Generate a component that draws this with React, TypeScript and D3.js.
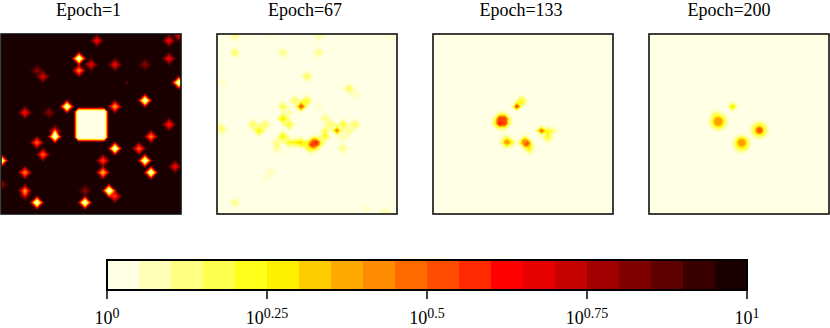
import React from 'react';
import * as d3 from 'd3';

// hot_r sampled into the 20 levels of the colorbar
const levelColors = [
  '#ffffe6', '#ffffb8', '#ffff80', '#ffff4d', '#ffff1a', '#fff000', '#ffcc00', '#ffaa00', '#ff8c00', '#ff6a00',
  '#ff4c00', '#ff2a00', '#ff0000', '#e60000', '#c40000', '#a00000', '#800000', '#5c0000', '#3a0000', '#1a0000',
];
const tickExponents = [0, 0.25, 0.5, 0.75, 1];
const tickLabels = ['0', '0.25', '0.5', '0.75', '1'];
const epochs = [1, 67, 133, 200];

// blobs: [col, row, log10 value, half width?, falloff?]
type Blob = [number, number, number, number?, number?];

const epoch1: Blob[] = [
  [30.1, 30.2, 0, 4.3, 1.8],
  [26, 8.2, 0], [22, 24.2, 0], [48, 22.2, 0], [38, 38.2, 0], [48, 42.2, 0], [50, 46.2, 0],
  [18, 34.2, 0], [36, 52.2, 0], [12, 56.2, 0], [28, 56.2, 0], [59.3, 16.2, 0], [0, 42.2, 0],
  [26, 12.2, 0.45], [38, 24.2, 0.4], [34, 46.2, 0.35], [8, 46.2, 0.45], [50, 34.2, 0.45], [46, 38.2, 0.5],
  [14, 40.2, 0.5], [12, 36.2, 0.5], [8, 52.2, 0.5], [38, 54.2, 0.6], [37, 53.2, 0.85], [18, 32.4, 0.65],
  [32, 2.2, 0.65], [56, 2.2, 0.65], [56, 8.2, 0.65], [38, 10.2, 0.65], [30, 10.2, 0.68], [14, 14.2, 0.7],
  [8, 26.2, 0.62], [56, 30.2, 0.6], [58, 44.2, 0.65], [34, 42.2, 0.55],
  [48, 10.2, 0.82], [16, 26.2, 0.82], [28, 52.2, 0.82], [12, 12.2, 0.82], [42, 16.2, 0.86, 0, 1],
  [0, 50.2, 0.78], [59.3, 0.4, 0.7], [8, 53.6, 0.78],
];

const epoch67: Blob[] = [
  [6, 6.2, 0.15], [22, 6.2, 0.12], [34, 6.2, 0.12], [6, 0.7, 0.12], [34, 0.7, 0.1], [30, 14.2, 0.16],
  [44, 18.2, 0.16], [46, 20.2, 0.08], [18, 46.2, 0.08], [6, 56.2, 0.12], [42, 38.2, 0.12], [56, 59.5, 0.1],
  [50, 58.2, 0.06], [2, 16.2, 0.06], [16, 48.2, 0.05], [34, 24.2, 0.06], [18, 0.7, 0.05], [58, 0.7, 0.05],
  [28, 24.2, 0.42, 0, 2.4], [28, 24.2, 0.1], [30, 22.2, 0.18], [29, 23.2, 0.12], [26, 22.2, 0.16], [22, 24.2, 0.16], [24, 26.2, 0.1],
  [22, 28.2, 0.28], [24, 30.2, 0.2], [14, 32.2, 0.24], [12, 30.2, 0.16], [16, 30.2, 0.16], [1, 31.2, 0.12],
  [2, 32.2, 0.08], [22, 34.2, 0.24], [20, 36.2, 0.12], [20, 38.2, 0.1], [24, 36.2, 0.18], [26, 36.2, 0.18],
  [28, 36.2, 0.26], [30, 37.2, 0.16], [31.3, 38.3, 0.14], [32.4, 36.4, 0.4, 0.5, 2.2], [32.4, 36.6, 0.12, 1, 3], [34, 36.2, 0.16],
  [36, 34.2, 0.2], [36, 32.2, 0.14], [36, 28.2, 0.12], [38, 30.2, 0.16], [40, 32.2, 0.36, 0, 2.2], [40, 32.2, 0.1], [42, 30.2, 0.2],
  [42, 34.2, 0.1], [44, 32.2, 0.12], [46, 30.2, 0.16],
];

const epoch133: Blob[] = [
  [27.9, 24.2, 0.42, 0, 2], [27.9, 24.2, 0.1, 0, 2.6], [29.7, 22.2, 0.18], [28.8, 23.2, 0.14],
  [23.1, 29, 0.34, 0.9, 1.8], [23.1, 29, 0.22, 1, 3.2], [21.2, 30, 0.12],
  [24.6, 36.1, 0.24, 0.2, 2], [24.6, 36.1, 0.14, 0.4, 3], [23.8, 34.8, 0.08], [26.2, 36.1, 0.12],
  [30.7, 36.1, 0.3, 0.4, 2], [30.7, 36.1, 0.14, 0.5, 3], [32, 37.2, 0.2, 0.2, 2.4], [32.2, 38.7, 0.14],
  [36.1, 32.2, 0.38, 0, 2.2], [36.1, 32.2, 0.1], [38.2, 32.6, 0.2], [40.1, 32.2, 0.1], [38.2, 34.6, 0.18],
];

const epoch200: Blob[] = [
  [27.9, 24.2, 0.28, 0, 2.4],
  [23.1, 29.2, 0.2, 0.8, 1.6], [23.1, 29.2, 0.22, 1.2, 2.8], [21.9, 26.4, 0.08],
  [30.9, 36.2, 0.2, 0.7, 1.6], [30.9, 36.6, 0.22, 1.1, 2.8],
  [36.8, 32.1, 0.3, 0.5, 1.4], [36.8, 32, 0.22, 1.1, 2.8],
];

const panelBlobs = [epoch1, epoch67, epoch133, epoch200];
const backgrounds = [0.975, 0.025, 0.025, 0.025];
const roundBlobs = [false, false, false, true];

const panelSize = 180;
const panelLefts = [1, 217, 433, 649];
const titleCenters = [88.5, 305, 521, 729];
const panelTop = 34;
const gridSize = 60;

const colorAt = d3
  .scaleLinear<string>()
  .domain(levelColors.map((_, i) => (i + 0.5) / levelColors.length))
  .range(levelColors)
  .clamp(true);

// spread the blobs over one panel, pixel by pixel
function buildPixels(blobs: Blob[], bg: number, round: boolean) {
  const scale = d3.scaleLinear().domain([0, gridSize]).range([0, panelSize]);
  const out: { x: number; y: number; fill: string }[] = [];
  for (const py of d3.range(panelSize)) {
    for (const px of d3.range(panelSize)) {
      const col = scale.invert(px + 0.5);
      const row = scale.invert(py + 0.5);
      let t = bg;
      for (const [c, r, v, hw = 0, fall = 3] of blobs) {
        const ax = Math.abs(col - c);
        const ay = Math.abs(row - r);
        const d = round && hw > 0
          ? Math.max(Math.hypot(ax, ay) - hw, 0)
          : Math.max(ax - hw, 0) + Math.max(ay - hw, 0);
        const s = Math.min(d / fall, 1);
        t += (v - bg) * (1 - s * s * (3 - 2 * s));
      }
      t = Math.max(0, Math.min(1, t));
      if (Math.abs(t - bg) > 0.002) out.push({ x: px, y: py, fill: colorAt(t) });
    }
  }
  return out;
}

const barLeft = 107;
const barRight = 747;
const barTop = 260;
const barBottom = 290;

export default function App() {
  const barScale = d3.scaleLog().domain([1, 10]).range([barLeft, barRight]);
  const levelScale = d3.scaleLinear().domain([0, levelColors.length]).range([barLeft, barRight]);
  const serif = '"Liberation Serif", "Times New Roman", serif';

  return (
    <svg
      width={830}
      height={328}
      style={{ position: 'absolute', left: 0, top: 0, background: '#fff' }}
      fontFamily={serif}
    >
      {epochs.map((epoch, i) => {
        const left = panelLefts[i];
        const pixels = buildPixels(panelBlobs[i], backgrounds[i], roundBlobs[i]);
        return (
          <g key={epoch}>
            <text x={titleCenters[i]} y={16} textAnchor="middle" fontSize={18} fill="#000">
              Epoch={epoch}
            </text>
            <rect x={left} y={panelTop} width={panelSize} height={panelSize} fill={colorAt(backgrounds[i])} />
            <g transform={`translate(${left},${panelTop})`} shapeRendering="crispEdges">
              {pixels.map((p) => (
                <rect key={`${p.x}-${p.y}`} x={p.x} y={p.y} width={1} height={1} fill={p.fill} />
              ))}
            </g>
            <rect
              x={left}
              y={panelTop}
              width={panelSize}
              height={panelSize}
              fill="none"
              stroke="#111"
              strokeWidth={1.6}
            />
          </g>
        );
      })}

      <g shapeRendering="crispEdges">
        {levelColors.map((c, i) => (
          <rect
            key={c}
            x={levelScale(i)}
            y={barTop}
            width={levelScale(i + 1) - levelScale(i)}
            height={barBottom - barTop}
            fill={c}
          />
        ))}
      </g>
      <rect
        x={barLeft}
        y={barTop}
        width={barRight - barLeft}
        height={barBottom - barTop}
        fill="none"
        stroke="#000"
        strokeWidth={2}
      />
      {tickExponents.map((e, i) => {
        const x = barScale(10 ** e);
        return (
          <g key={e}>
            <line x1={x} x2={x} y1={barBottom} y2={299} stroke="#000" strokeWidth={1.5} />
            <text x={x} y={324} textAnchor="middle" fontSize={18} fill="#000">
              10
              <tspan dy={-6.5} fontSize={14}>
                {tickLabels[i]}
              </tspan>
            </text>
          </g>
        );
      })}
    </svg>
  );
}
